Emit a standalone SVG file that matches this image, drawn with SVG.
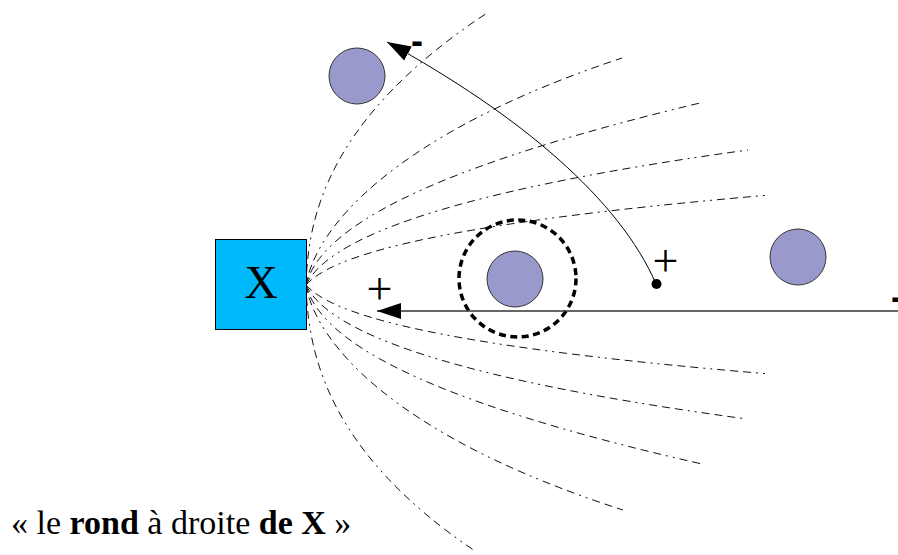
<svg xmlns="http://www.w3.org/2000/svg" width="898" height="555" viewBox="0 0 898 555">
<style>
.fan{fill:none;stroke:#111;stroke-width:1;stroke-dasharray:8 5 8 5 8 5 2 5 2 5}
.ball{fill:#9999cc;stroke:#333;stroke-width:1}
.sign{font-family:"Liberation Serif",serif;font-size:46px;fill:#000}
.bar{font-family:"Liberation Sans",sans-serif;font-size:36px;font-weight:bold;fill:#000}
</style>
<defs>
<marker id="ah" viewBox="0 0 24 16" refX="24" refY="8" markerWidth="24" markerHeight="16" markerUnits="userSpaceOnUse" orient="auto">
<path d="M0,0 L24,8 L0,16 Z" fill="#000"/>
</marker>
</defs>
<rect width="898" height="555" fill="#fff"/>
<g id="fan">
<path class="fan" d="M306,285 C308,220 325,120 487,13"/>
<path class="fan" d="M306,285 C315,230 390,135 622,58"/>
<path class="fan" d="M306,285 C320,230 420,170 700,103"/>
<path class="fan" d="M306,285 C325,245 420,195 748,150"/>
<path class="fan" d="M306,285 C330,258 420,225 770,195"/>
<path class="fan" d="M306,285 C330,312 420,345 770,374"/>
<path class="fan" d="M306,285 C325,325 420,375 747,419"/>
<path class="fan" d="M306,285 C320,340 420,400 702,464"/>
<path class="fan" d="M306,285 C315,340 390,435 623,510"/>
<path class="fan" d="M306,285 C308,350 325,450 475,551"/>
</g>
<g id="nodeX">
<rect x="215.5" y="239.5" width="91" height="90" fill="#00b9fb" stroke="#000" stroke-width="1"/>
<text x="261" y="298" text-anchor="middle" font-family="Liberation Serif, serif" font-size="46">X</text>
</g>
<g id="ballTop"><circle class="ball" cx="357" cy="76" r="28"/></g>
<g id="ballMid"><circle class="ball" cx="515" cy="279" r="28"/></g>
<g id="ballRight"><circle class="ball" cx="798" cy="257" r="28"/></g>
<g id="zone"><circle cx="517.5" cy="278.5" r="58.5" fill="none" stroke="#000" stroke-width="3.5" stroke-dasharray="7 4.5"/></g>
<g id="connectors">
<path d="M898,311 L377,311" fill="none" stroke="#333" stroke-width="1.5" marker-end="url(#ah)"/>
<path d="M656,284 C620,200 520,115 387,42" fill="none" stroke="#000" stroke-width="1" marker-end="url(#ah)"/>
<circle cx="656.5" cy="284" r="5" fill="#000"/>
</g>
<g id="labels">
<text class="sign" x="366.6" y="303.6">+</text>
<text class="sign" x="652.6" y="276">+</text>
<text class="bar" x="411" y="53">-</text>
<text class="bar" x="891" y="309">-</text>
<text x="11" y="534" font-family="Liberation Serif, serif" font-size="34">« le <tspan font-weight="bold">rond</tspan> à droite <tspan font-weight="bold">de X</tspan> »</text>
</g>
</svg>
